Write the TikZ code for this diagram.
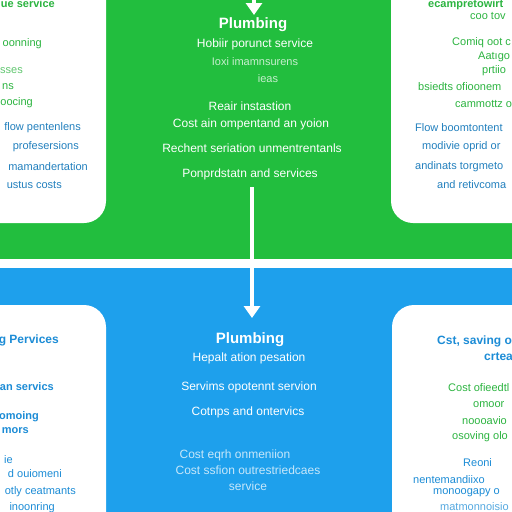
\documentclass[tikz,border=0pt]{standalone}
\usepackage{fontspec}
\setmainfont{Liberation Sans}
\usetikzlibrary{arrows.meta}
\definecolor{bggreen}{RGB}{34,190,62}
\definecolor{bgblue}{RGB}{30,160,236}
\definecolor{txgreen}{RGB}{44,180,64}
\definecolor{txblue}{RGB}{34,128,190}
\definecolor{txblueb}{RGB}{28,140,214}
\tikzset{
  panel/.style={fill=white, rounded corners=22pt},
  ctitle/.style={text=white, font=\fontsize{15}{17}\selectfont\bfseries},
  ctext/.style={text=white, font=\fontsize{12}{14}\selectfont},
  faint/.style={opacity=0.75},
  gl/.style={text=txgreen, font=\fontsize{11}{13}\selectfont, inner sep=0pt},
  bl/.style={text=txblue, font=\fontsize{11}{13}\selectfont, inner sep=0pt},
  bb/.style={text=txblueb, font=\fontsize{11}{13}\selectfont, inner sep=0pt},
  bhead/.style={text=txblueb, font=\fontsize{12}{14}\selectfont\bfseries, inner sep=0pt},
  flow/.style={draw=white, line width=3.5pt, -{Triangle[length=12pt,width=16pt]}},
}
\begin{document}
\begin{tikzpicture}[x=1pt,y=-1pt]
\useasboundingbox (0,0) rectangle (512,512);
\clip (0,0) rectangle (512,512);
% backgrounds
\fill[bggreen] (0,0) rectangle (512,259);
\fill[bgblue] (0,268) rectangle (512,512);
% panels
\fill[panel] (-40,-40) rectangle (106,223);
\fill[panel] (391,-40) rectangle (560,223);
\fill[panel] (-40,305) rectangle (106,560);
\fill[panel] (392,305) rectangle (560,560);
% top centre texts
\node[ctitle] (t1) at (253,25) {Plumbing};
\node[ctext] (t2) at (255,44) {Hobiir porunct service};
\node[ctext,faint,font=\fontsize{11}{13}\selectfont] (t3) at (255,62) {Ioxi imamnsurens};
\node[ctext,faint,font=\fontsize{11}{13}\selectfont] (t4) at (268,79) {ieas};
\node[ctext] (t5) at (250,106) {Reair instastion};
\node[ctext] (t6) at (251,124) {Cost ain ompentand an yoion};
\node[ctext] (t7) at (252,148) {Rechent seriation unmentrentanls};
\node[ctext] (t8) at (250,174) {Ponprdstatn and services};
% bottom centre texts
\node[ctitle] (b1) at (250,340) {Plumbing};
\node[ctext] (b2) at (249,358) {Hepalt ation pesation};
\node[ctext] (b3) at (249,387) {Servims opotennt servion};
\node[ctext] (b4) at (248,412) {Cotnps and ontervics};
\node[ctext,faint] (b5) at (235,455) {Cost eqrh onmeniion};
\node[ctext,faint] (b6) at (248,470) {Cost ssfion outrestriedcaes};
\node[ctext,faint] (b7) at (248,486) {service};
% connectors
\coordinate (inTop) at (254,-6);
\coordinate (inEnd) at (254,15);
\coordinate (fromTop) at (252,187);
\coordinate (toBot) at (252,318);
\draw[flow] (inTop) -- (inEnd);
\draw[flow] (fromTop) -- (toBot);
% top-left panel
\node[gl,anchor=east,font=\fontsize{11}{13}\selectfont\bfseries] (l1) at (55,4) {ue service};
\node[gl,anchor=east] (l2) at (42,44) {oonning};
\node[gl,anchor=east,faint] (l3) at (23,71) {sses};
\node[gl,anchor=east] (l4) at (14,87) {ns};
\node[gl,anchor=east] (l5) at (33,103) {oocing};
\node[bl,anchor=east] (l6) at (81,128) {flow pentenlens};
\node[bl,anchor=east] (l7) at (79,147) {profesersions};
\node[bl,anchor=east] (l8) at (88,167) {mamandertation};
\node[bl,anchor=east] (l9) at (62,185) {ustus costs};
% top-right panel
\node[gl,anchor=west,font=\fontsize{11}{13}\selectfont\bfseries] (r1) at (428,5) {ecampretowirt};
\node[gl,anchor=west] (r2) at (470,16) {coo tov};
\node[gl,anchor=west] (r3) at (452,43) {Comiq oot c};
\node[gl,anchor=west] (r4) at (478,57) {Aatıgo};
\node[gl,anchor=west] (r5) at (482,71) {prtiio};
\node[gl,anchor=west] (r6) at (418,87) {bsiedts ofioonem};
\node[gl,anchor=west] (r7) at (455,104) {cammottz o};
\node[bl,anchor=west] (r8) at (415,128) {Flow boomtontent};
\node[bl,anchor=west] (r9) at (422,147) {modivie oprid or};
\node[bl,anchor=west] (r10) at (415,167) {andinats torgmeto};
\node[bl,anchor=west] (r11) at (437,185) {and retivcoma};
% bottom-left panel
\node[bhead,anchor=east] (p1) at (59,340) {g Pervices};
\node[bb,anchor=east,font=\fontsize{11}{13}\selectfont\bfseries] (p2) at (54,387) {an servics};
\node[bb,anchor=east,font=\fontsize{11}{13}\selectfont\bfseries] (p3) at (39,417) {omoing};
\node[bb,anchor=east,font=\fontsize{11}{13}\selectfont\bfseries] (p4) at (29,431) {mors};
\node[bb,anchor=east] (p5) at (13,460) {ie};
\node[bb,anchor=east] (p6) at (62,474) {d ouiomeni};
\node[bb,anchor=east] (p7) at (76,492) {otly ceatmants};
\node[bb,anchor=east] (p8) at (55,508) {inoonring};
% bottom-right panel
\node[bhead,anchor=west] (q1) at (437,341) {Cst, saving o};
\node[bhead,anchor=west] (q2) at (484,357) {crtea};
\node[gl,anchor=west] (q3) at (448,388) {Cost ofieedtl};
\node[gl,anchor=west] (q4) at (473,405) {omoor};
\node[gl,anchor=west] (q5) at (462,421) {noooavio};
\node[gl,anchor=west] (q6) at (452,437) {osoving olo};
\node[bb,anchor=west] (q7) at (463,463) {Reoni};
\node[bb,anchor=west] (q8) at (413,480) {nentemandiixo};
\node[bb,anchor=west] (q9) at (433,493) {monoogapy o};
\node[bb,anchor=west,faint] (q10) at (440,507) {matmonnoisio};
\end{tikzpicture}
\end{document}
